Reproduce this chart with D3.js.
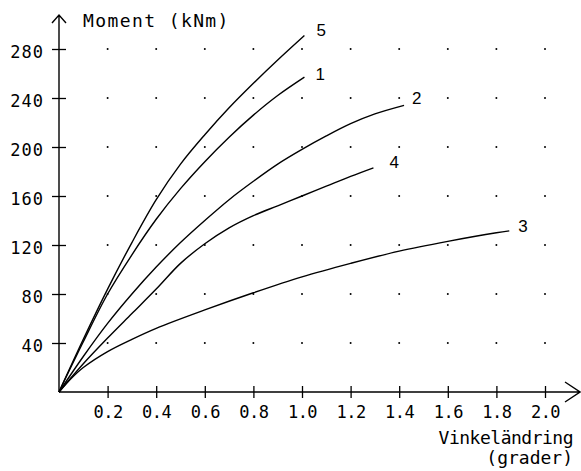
<!DOCTYPE html>
<html>
<head>
<meta charset="utf-8">
<script src="https://cdn.jsdelivr.net/npm/d3@7"></script>
<style>
    body { margin: 0; background: #fff; }
    .axis-text { font-family: "DejaVu Sans Mono", monospace; fill: #000; }
    .curve-label { font-family: "Liberation Sans", Arial, sans-serif; font-size: 17px; fill: #000; }
</style>
</head>
<body>
<div id="chart-area" style="width:581px; height:471px;"></div>
<script>

// tick values
let angleTicks = [0.2, 0.4, 0.6, 0.8, 1.0, 1.2, 1.4, 1.6, 1.8, 2.0];
let momentTicks = [40, 80, 120, 160, 200, 240, 280];

// curve names
let curveNames = ["5", "1", "2", "4", "3"];

// [vinkeländring (grader), moment (kNm)]
let curve5 = [[0, 0], [0.1, 43], [0.2, 84], [0.3, 122], [0.4, 157], [0.5, 186], [0.6, 210], [0.7, 232], [0.8, 252], [0.9, 271], [1.01, 291]];
let curve1 = [[0, 0], [0.1, 41], [0.2, 80], [0.3, 112], [0.4, 141], [0.5, 166], [0.6, 188], [0.7, 208], [0.8, 226], [0.9, 242], [1.01, 257]];
let curve2 = [[0, 0], [0.1, 29], [0.2, 56], [0.3, 80], [0.4, 102], [0.5, 122], [0.6, 140], [0.7, 157], [0.8, 172], [0.9, 186], [1.0, 198], [1.1, 209], [1.2, 219], [1.3, 227], [1.42, 234]];
let curve4 = [[0, 0], [0.1, 23], [0.2, 44], [0.3, 64], [0.4, 84], [0.5, 105], [0.6, 121], [0.7, 134], [0.8, 144], [0.9, 152], [1.0, 160], [1.1, 168], [1.2, 176], [1.294, 183]];
let curve3 = [[0, 0], [0.05, 11], [0.1, 20], [0.2, 33], [0.3, 43], [0.4, 52], [0.6, 67], [0.8, 81], [1.0, 94], [1.2, 105], [1.4, 115], [1.6, 123], [1.8, 130], [1.853, 131.5]];


class MomentVis {

    constructor(parentElement, curves){
        this.parentElement = parentElement;
        this.curves = curves;

        this.initVis()
    }

    initVis(){
        let vis = this;

        vis.margin = {top: 49, right: 36, bottom: 79, left: 59};
        vis.width = 581 - vis.margin.left - vis.margin.right;
        vis.height = 471 - vis.margin.top - vis.margin.bottom;

        vis.svg = d3.select("#" + vis.parentElement).append("svg")
            .attr("width", vis.width + vis.margin.left + vis.margin.right)
            .attr("height", vis.height + vis.margin.top + vis.margin.bottom)
            .append('g')
            .attr('transform', `translate (${vis.margin.left}, ${vis.margin.top})`);

        // scales
        vis.x = d3.scaleLinear()
            .domain([0, 2.0])
            .range([0, vis.width]);

        vis.y = d3.scaleLinear()
            .domain([0, 280])
            .range([vis.height, 0]);

        vis.xAxis = d3.axisBottom()
            .scale(vis.x)
            .tickValues(angleTicks)
            .tickFormat(d3.format(".1f"))
            .tickSize(6)
            .tickPadding(8);

        vis.yAxis = d3.axisLeft()
            .scale(vis.y)
            .tickValues(momentTicks)
            .tickSize(7)
            .tickPadding(8);

        vis.xAxisGroup = vis.svg.append("g")
            .attr("class", "x-axis")
            .attr("transform", "translate(0, " + vis.height + ")");

        vis.yAxisGroup = vis.svg.append("g")
            .attr("class", "y-axis");

        vis.line = d3.line()
            .x(d => vis.x(d[0]))
            .y(d => vis.y(d[1]))
            .curve(d3.curveCatmullRom.alpha(0.5));

        this.updateVis();
    }

    updateVis(){
        let vis = this;

        // grid dots
        let dots = [];
        angleTicks.forEach(a => momentTicks.forEach(m => dots.push([a, m])));

        vis.svg.selectAll(".grid-dot")
            .data(dots)
            .join("circle")
            .attr("class", "grid-dot")
            .attr("cx", d => vis.x(d[0]))
            .attr("cy", d => vis.y(d[1]))
            .attr("r", 1)
            .attr("fill", "#000");

        // axes
        vis.xAxisGroup.call(vis.xAxis);
        vis.yAxisGroup.call(vis.yAxis);

        vis.svg.selectAll(".domain").remove();

        vis.xAxisGroup.selectAll(".tick line")
            .attr("y1", -6)
            .attr("stroke-width", 1.3);
        vis.yAxisGroup.selectAll(".tick line")
            .attr("x1", 7)
            .attr("stroke-width", 1.3);

        vis.xAxisGroup.selectAll(".tick text")
            .attr("class", "axis-text")
            .style("font-size", "17px")
            .style("letter-spacing", "-0.5px");
        vis.yAxisGroup.selectAll(".tick text")
            .attr("class", "axis-text")
            .attr("dy", "0.5em")
            .style("font-size", "17px")
            .style("letter-spacing", "1px");

        // axis lines with arrows
        let xEnd = vis.width + 35;
        let yEnd = -34;

        vis.svg.append("path")
            .attr("d", `M0,${vis.height}H${xEnd}M${xEnd - 15},${vis.height - 10}L${xEnd},${vis.height}L${xEnd - 15},${vis.height + 10}`)
            .attr("fill", "none")
            .attr("stroke", "#000")
            .attr("stroke-width", 1.4);

        vis.svg.append("path")
            .attr("d", `M0,${vis.height}V${yEnd}M-7,${yEnd + 8}L0,${yEnd}L7,${yEnd + 8}`)
            .attr("fill", "none")
            .attr("stroke", "#000")
            .attr("stroke-width", 1.4);

        // axis titles
        vis.svg.append("text")
            .attr("class", "axis-text")
            .attr("x", 24)
            .attr("y", -22)
            .style("font-size", "18px")
            .style("letter-spacing", "1.4px")
            .text("Moment (kNm)");

        vis.svg.append("text")
            .attr("class", "axis-text")
            .attr("x", xEnd - 7)
            .attr("y", vis.height + 52)
            .attr("text-anchor", "end")
            .style("font-size", "18px")
            .style("letter-spacing", "-0.5px")
            .text("Vinkeländring");

        vis.svg.append("text")
            .attr("class", "axis-text")
            .attr("x", xEnd - 7)
            .attr("y", vis.height + 72)
            .attr("text-anchor", "end")
            .style("font-size", "18px")
            .text("(grader)");

        // curves
        vis.svg.selectAll(".curve")
            .data(vis.curves)
            .join("path")
            .attr("class", "curve")
            .attr("d", d => vis.line(d.values))
            .attr("fill", "none")
            .attr("stroke", "#000")
            .attr("stroke-width", 1.4);

        // labels at the end of each curve
        let labelOffset = {"5": [12, 0], "1": [11, 3], "2": [8, -1], "4": [16, 0], "3": [9, 1]};

        vis.svg.selectAll(".curve-label")
            .data(vis.curves)
            .join("text")
            .attr("class", "curve-label")
            .attr("x", d => vis.x(d.values[d.values.length - 1][0]) + labelOffset[d.name][0])
            .attr("y", d => vis.y(d.values[d.values.length - 1][1]) + labelOffset[d.name][1])
            .text(d => d.name);
    }
}

let curveData = [curve5, curve1, curve2, curve4, curve3].map((values, i) => ({name: curveNames[i], values: values}));

let momentVis = new MomentVis("chart-area", curveData);

</script>
</body>
</html>
